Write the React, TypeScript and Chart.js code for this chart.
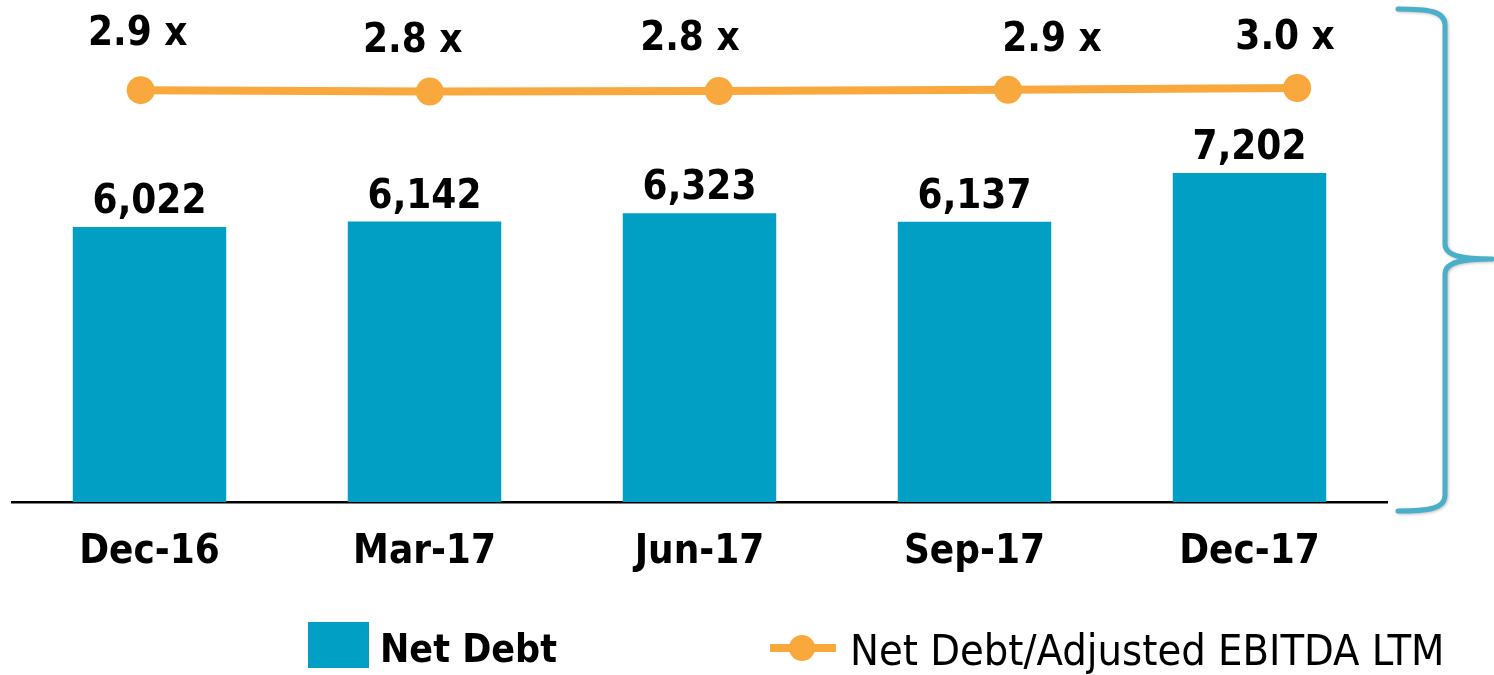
import React, { useEffect, useRef } from "react";
import { Chart, registerables } from "chart.js";

Chart.register(...registerables);

const CATEGORIES = ["Dec-16", "Mar-17", "Jun-17", "Sep-17", "Dec-17"];
const NET_DEBT = [6022, 6142, 6323, 6137, 7202];
const LEVERAGE = [2.86, 2.79, 2.82, 2.88, 2.97];
const BAR_LABEL = "Net Debt";
const LINE_LABEL = "Net Debt/Adjusted EBITDA LTM";

// styling
const TEAL = "#009FC3";
const ORANGE = "#F9A83D";
const BRACKET = "#4AAFC8";
const FAMILY = "'DejaVu Sans Condensed', 'DejaVu Sans', sans-serif";
const LINE_LABEL_DX = [-3, -17, -29, 44, -12];
const LINE_LABEL_DY = [-60, -54, -56, -53, -54];

const overlay = {
  id: "overlay",
  afterDatasetsDraw(chart: any) {
    const ctx = chart.ctx;
    ctx.save();
    ctx.fillStyle = "#000";
    ctx.textAlign = "center";
    ctx.textBaseline = "alphabetic";
    const fs = 40;
    ctx.font = `bold ${fs}px ${FAMILY}`;
    const barMeta = chart.getDatasetMeta(0);
    barMeta.data.forEach((el: any, i: number) => {
      ctx.fillText(NET_DEBT[i].toLocaleString("en-US"), el.x, el.y - 14);
    });
    const lineMeta = chart.getDatasetMeta(1);
    lineMeta.data.forEach((el: any, i: number) => {
      const txt = LEVERAGE[i].toFixed(1) + " x";
      ctx.fillText(txt, el.x + LINE_LABEL_DX[i], el.y + LINE_LABEL_DY[i] + fs * 0.365);
    });
    ctx.restore();
  },
  afterDraw(chart: any) {
    const ctx = chart.ctx;
    ctx.save();
    // bracket
    ctx.strokeStyle = BRACKET;
    ctx.lineWidth = 5;
    ctx.lineCap = "round";
    ctx.lineJoin = "round";
    ctx.shadowColor = "rgba(0,0,0,0.25)";
    ctx.shadowBlur = 3;
    ctx.shadowOffsetX = 1;
    ctx.shadowOffsetY = 1;
    ctx.beginPath();
    ctx.moveTo(1398, 9);
    ctx.bezierCurveTo(1428, 9, 1445, 11, 1445, 25);
    ctx.lineTo(1445, 244);
    ctx.bezierCurveTo(1445, 256, 1462, 259, 1492, 259);
    ctx.bezierCurveTo(1462, 259, 1445, 262, 1445, 274);
    ctx.lineTo(1445, 495);
    ctx.bezierCurveTo(1445, 509, 1428, 511, 1398, 511);
    ctx.stroke();
    ctx.restore();

    // legend
    ctx.save();
    ctx.fillStyle = TEAL;
    ctx.fillRect(308, 622, 61, 46);
    ctx.fillStyle = "#000";
    ctx.textAlign = "left";
    ctx.textBaseline = "alphabetic";
    ctx.font = `bold 39px ${FAMILY}`;
    ctx.fillText(chart.data.datasets[0].label, 380, 662);
    ctx.strokeStyle = ORANGE;
    ctx.lineWidth = 8;
    ctx.beginPath();
    ctx.moveTo(770, 648);
    ctx.lineTo(836, 648);
    ctx.stroke();
    ctx.fillStyle = ORANGE;
    ctx.beginPath();
    ctx.arc(802, 648, 13, 0, Math.PI * 2);
    ctx.fill();
    ctx.fillStyle = "#000";
    ctx.font = `43px ${FAMILY}`;
    ctx.fillText(chart.data.datasets[1].label, 850, 665);
    ctx.restore();
  },
};

export default function App() {
  const ref = useRef<HTMLCanvasElement | null>(null);
  useEffect(() => {
    if (!ref.current) return;
    const chart = new Chart(ref.current, {
      type: "bar",
      data: {
        labels: CATEGORIES,
        datasets: [
          {
            type: "bar",
            label: BAR_LABEL,
            data: NET_DEBT,
            backgroundColor: TEAL,
            borderWidth: 0,
            barPercentage: 0.558,
            categoryPercentage: 1,
            grouped: false,
            xAxisID: "x",
            yAxisID: "y",
            order: 2,
          } as any,
          {
            type: "line",
            label: LINE_LABEL,
            data: LEVERAGE.map((v, i) => ({ x: i, y: v })),
            borderColor: ORANGE,
            backgroundColor: ORANGE,
            borderWidth: 8,
            pointRadius: 14,
            pointBorderWidth: 0,
            pointBackgroundColor: ORANGE,
            tension: 0,
            xAxisID: "x2",
            yAxisID: "y2",
            order: 1,
          } as any,
        ],
      },
      options: {
        animation: false,
        responsive: true,
        maintainAspectRatio: false,
        layout: { autoPadding: false, padding: { left: 12, right: 107, top: 0, bottom: 0 } },
        plugins: {
          legend: { display: false },
          tooltip: { enabled: false },
          title: { display: false },
        },
        scales: {
          x: {
            type: "category",
            position: "bottom",
            offset: true,
            grid: { display: false, drawTicks: false, offset: true },
            border: { display: true, color: "#000", width: 2.5 },
            ticks: {
              color: "#000",
              padding: 27,
              font: { family: FAMILY, size: 40, weight: "bold" },
              maxRotation: 0,
              autoSkip: false,
            },
            afterFit(scale: any) {
              scale.height = 173;
            },
          },
          x2: {
            type: "linear",
            display: false,
            offset: false,
            grid: { offset: false },
            min: -0.4452,
            max: 4.311,
          },
          y: {
            display: false,
            min: 0,
            max: 10993,
          },
          y2: {
            display: false,
            min: -17.73,
            max: 7.37,
          },
        },
      } as any,
      plugins: [overlay],
    });
    return () => chart.destroy();
  }, []);
  return (
    <div style={{ position: "fixed", left: 0, top: 0, width: 1494, height: 675, background: "#fff" }}>
      <canvas ref={ref} />
    </div>
  );
}
